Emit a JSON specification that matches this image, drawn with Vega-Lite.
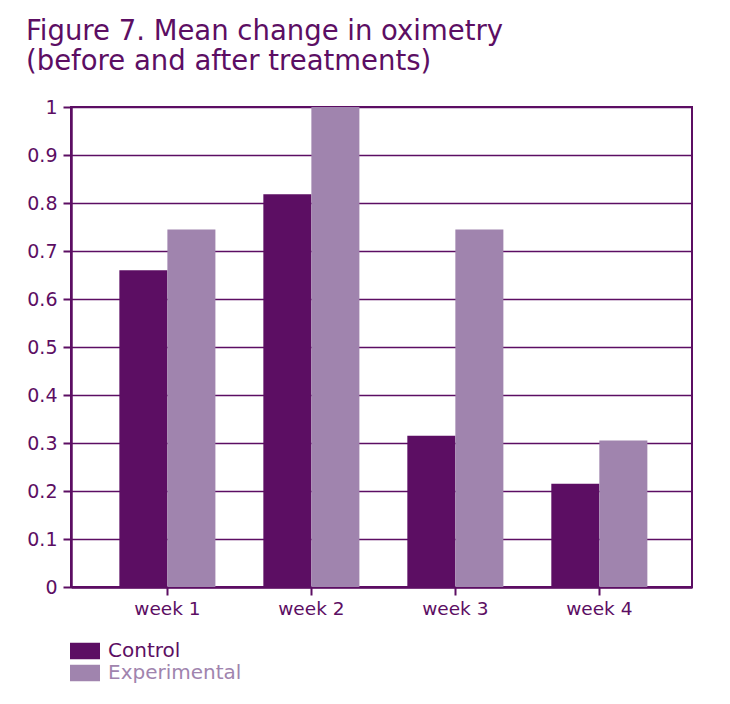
{
  "$schema": "https://vega.github.io/schema/vega-lite/v6.json",
  "width": 621,
  "height": 480,
  "autosize": "none",
  "padding": {"left": 71, "top": 107, "right": 38, "bottom": 117},
  "background": "white",
  "title": {
    "text": ["Figure 7. Mean change in oximetry", "(before and after treatments)"],
    "anchor": "start",
    "frame": "group",
    "dx": -45,
    "offset": 23,
    "font": "DejaVu Sans",
    "fontSize": 27.5,
    "fontWeight": "normal",
    "color": "#5c0e63",
    "lineHeight": 30
  },
  "data": {
    "values": [
      {"week": "week 1", "group": "Control", "value": 0.66},
      {"week": "week 1", "group": "Experimental", "value": 0.745},
      {"week": "week 2", "group": "Control", "value": 0.818},
      {"week": "week 2", "group": "Experimental", "value": 1.0},
      {"week": "week 3", "group": "Control", "value": 0.315},
      {"week": "week 3", "group": "Experimental", "value": 0.745},
      {"week": "week 4", "group": "Control", "value": 0.215},
      {"week": "week 4", "group": "Experimental", "value": 0.305}
    ]
  },
  "mark": {"type": "bar"},
  "encoding": {
    "x": {
      "field": "week",
      "type": "nominal",
      "sort": null,
      "scale": {"paddingInner": 0.333, "paddingOuter": 0.323, "align": 0.52},
      "axis": {
        "title": null,
        "labelAngle": 0,
        "labelFont": "DejaVu Sans",
        "labelFontSize": 18.5,
        "labelColor": "#5c0e63",
        "labelPadding": 4,
        "tickColor": "#5c0e63",
        "tickSize": 8,
        "tickWidth": 2,
        "domainColor": "#5c0e63",
        "domainWidth": 2.5,
        "grid": false
      }
    },
    "xOffset": {
      "field": "group",
      "type": "nominal",
      "sort": ["Control", "Experimental"],
      "scale": {"paddingInner": 0, "paddingOuter": 0}
    },
    "y": {
      "field": "value",
      "type": "quantitative",
      "scale": {"domain": [0, 1], "nice": false},
      "axis": {
        "title": null,
        "values": [0, 0.1, 0.2, 0.3, 0.4, 0.5, 0.6, 0.7, 0.8, 0.9, 1],
        "format": "~g",
        "labelFont": "DejaVu Sans",
        "labelFontSize": 19,
        "labelColor": "#5c0e63",
        "labelPadding": 6,
        "tickColor": "#5c0e63",
        "tickSize": 8,
        "tickWidth": 2,
        "domainColor": "#5c0e63",
        "domainWidth": 2.5,
        "grid": true,
        "gridColor": "#5c0e63",
        "gridWidth": 1.3,
        "gridOpacity": 1
      }
    },
    "color": {
      "field": "group",
      "type": "nominal",
      "scale": {"domain": ["Control", "Experimental"], "range": ["#5c0e63", "#a084ae"]},
      "legend": {
        "title": null,
        "orient": "none",
        "legendX": 4,
        "legendY": 534,
        "direction": "vertical",
        "symbolType": "M-1.5,-0.825H1.5V0.825H-1.5Z",
        "symbolSize": 400,
        "symbolStrokeWidth": 0,
        "symbolOpacity": 1,
        "labelFont": "DejaVu Sans",
        "labelFontSize": 20,
        "labelOffset": 13,
        "rowPadding": 2,
        "encode": {
          "labels": {
            "update": {
              "fill": {"signal": "datum.value === 'Control' ? '#5c0e63' : '#a084ae'"}
            }
          }
        }
      }
    }
  },
  "config": {
    "view": {"stroke": "#5c0e63", "strokeWidth": 2}
  }
}
